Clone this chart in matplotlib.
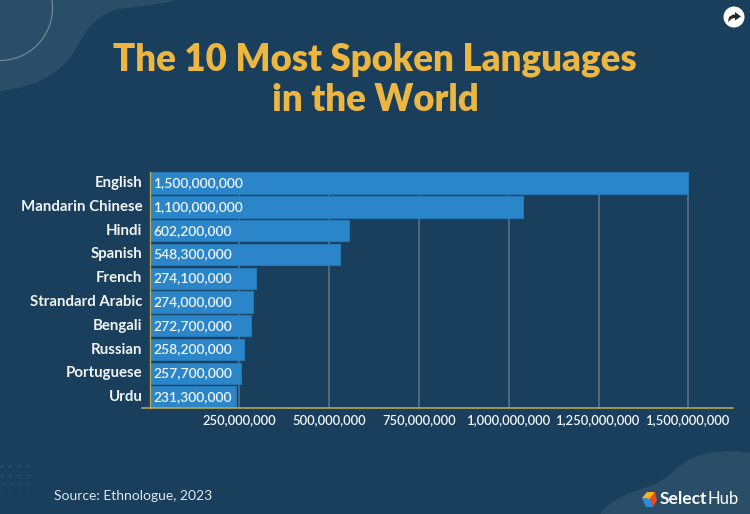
import matplotlib
matplotlib.use("Agg")
import matplotlib.pyplot as plt
from matplotlib.patches import PathPatch, Circle, Polygon
from matplotlib.path import Path
from matplotlib.transforms import ScaledTranslation

plt.rcParams['font.family'] = ['Lato', 'DejaVu Sans']

languages = ["English", "Mandarin Chinese", "Hindi", "Spanish", "French",
             "Strandard Arabic", "Bengali", "Russian", "Portuguese", "Urdu"]
# the bars in the picture do not follow their labels, so keep both
bar_lengths = [1500e6, 1040e6, 555e6, 530e6, 296e6, 289e6, 282e6, 264e6, 256e6, 240e6]
bar_labels = [1500000000, 1100000000, 602200000, 548300000, 274100000,
              274000000, 272700000, 258200000, 257700000, 231300000]
x_ticks = [250e6, 500e6, 750e6, 1000e6, 1250e6, 1500e6]

BG = "#1a3f5c"
BLOB = "#2a4e68"
GOLD = "#ecb640"
BAR = "#2a86c9"
AXIS = "#c2ad52"
GRID = "#5d768c"
WHITE = "#f1f4f7"

W, H = 750, 514
fig = plt.figure(figsize=(7.5, 5.14), dpi=100, facecolor=BG)

# Background decoration, pixel coordinates
bg = fig.add_axes([0, 0, 1, 1])
bg.set_xlim(0, W)
bg.set_ylim(H, 0)
bg.axis("off")

c = Path.CURVE4
top_blob = Path(
    [(0, 0), (0, 91), (35, 88), (62, 72), (74, 52), (85, 33), (92, 17), (118, 9),
     (140, 7), (160, 4), (178, 0), (0, 0)],
    [Path.MOVETO, Path.LINETO, c, c, c, c, c, c, c, c, c, Path.CLOSEPOLY])
bg.add_patch(PathPatch(top_blob, fc=BLOB, ec="none"))
bg.add_patch(Circle((0, 8), 52.5, fc="none", ec="#6f8799", lw=0.9))

bottom_blob = Path(
    [(600, 514), (610, 500), (630, 492), (650, 486), (668, 480), (675, 466), (695, 457),
     (715, 450), (735, 450), (750, 453), (750, 514), (600, 514)],
    [Path.MOVETO, c, c, c, c, c, c, c, c, c, Path.LINETO, Path.CLOSEPOLY])
bg.add_patch(PathPatch(bottom_blob, fc=BLOB, ec="none"))

# Dots, bottom left
for row, col in [(466, "#355870"), (475, "#315369"), (484, "#2c4e66"), (493, "#274a62")]:
    bg.scatter([2, 10, 19, 28], [row] * 4, s=2.5, color=col, linewidths=0)

# Share icon
bg.add_patch(Circle((734, 17), 10.5, fc="white", ec="none"))
bg.add_patch(Polygon([(728, 22), (729, 17), (733, 14.5), (735, 14.5), (735, 12), (741, 16.5),
                      (735, 20.5), (735, 18), (732, 18.5)], fc="#26292c", ec="none"))

# Logo
bg.add_patch(Polygon([(642, 498), (647, 492), (655, 492), (650, 499)], fc="#f5b21c", ec="none"))
bg.add_patch(Polygon([(642, 498), (650, 499), (653, 507), (646, 507)], fc="#2a8fe0", ec="none"))
bg.add_patch(Polygon([(650, 499), (655, 492), (657, 500), (653, 507)], fc="#ee4a24", ec="none"))
bg.text(660, 499.5, "Select", color="white", fontsize=12.5, fontweight="bold", va="center", ha="left")
bg.text(707.5, 499.5, "Hub", color="white", fontsize=12, va="center", ha="left")

bg.text(375, 59.5, "The 10 Most Spoken Languages", color=GOLD, fontsize=26.4, fontweight="heavy",
        ha="center", va="center")
bg.text(375, 100, "in the World", color=GOLD, fontsize=26.4, fontweight="heavy",
        ha="center", va="center")
bg.text(54, 496.5, "Source: Ethnologue, 2023", color="#dfe6ec", fontsize=10, ha="left", va="center")

# Chart
left, right, top, bottom = 149.5, 733, 172, 407.5
ax = fig.add_axes([left / W, 1 - bottom / H, (right - left) / W, (bottom - top) / H])
ax.patch.set_alpha(0)
xmax = (right - left) / 89.8 * 250e6
ax.set_xlim(0, xmax)
ax.set_ylim(9.44, -0.47)

ypos = list(range(len(languages)))
ax.vlines(x_ticks, 9.44, 0.15, color=GRID, lw=1.1, zorder=1)
ax.barh(ypos, bar_lengths, height=0.9, color=BAR, edgecolor="#2678b5", lw=0.8, zorder=2)

for y, val in zip(ypos, bar_labels):
    ax.annotate(f"{val:,}", (0, y), xytext=(2.9, 0), textcoords="offset points", color=WHITE,
                fontsize=10, fontweight="semibold", va="center", ha="left", zorder=3)

for s in ["top", "right", "bottom"]:
    ax.spines[s].set_visible(False)
ax.spines["left"].set_color(AXIS)
ax.spines["left"].set_linewidth(0.9)
ax.spines["left"].set_zorder(4)
ax.plot([-20e6, xmax], [0, 0], transform=ax.get_xaxis_transform(), color=AXIS, lw=1.1,
        clip_on=False, zorder=4)

ax.set_yticks(ypos)
ax.set_yticklabels(languages, fontsize=10.85, fontweight="bold", color=WHITE)
ax.set_xticks(x_ticks)
ax.set_xticklabels([f"{int(t):,}" for t in x_ticks], fontsize=9.4, fontweight="semibold", color=WHITE)
ax.tick_params(axis="y", length=0, pad=5)
ax.tick_params(axis="x", length=0, pad=5)

# category labels sit a little above the bar centres
up = ScaledTranslation(0, 1.5 / 100, fig.dpi_scale_trans)
for lab in ax.get_yticklabels():
    lab.set_transform(lab.get_transform() + up)

fig.savefig("out.png", dpi=100, facecolor=BG)
